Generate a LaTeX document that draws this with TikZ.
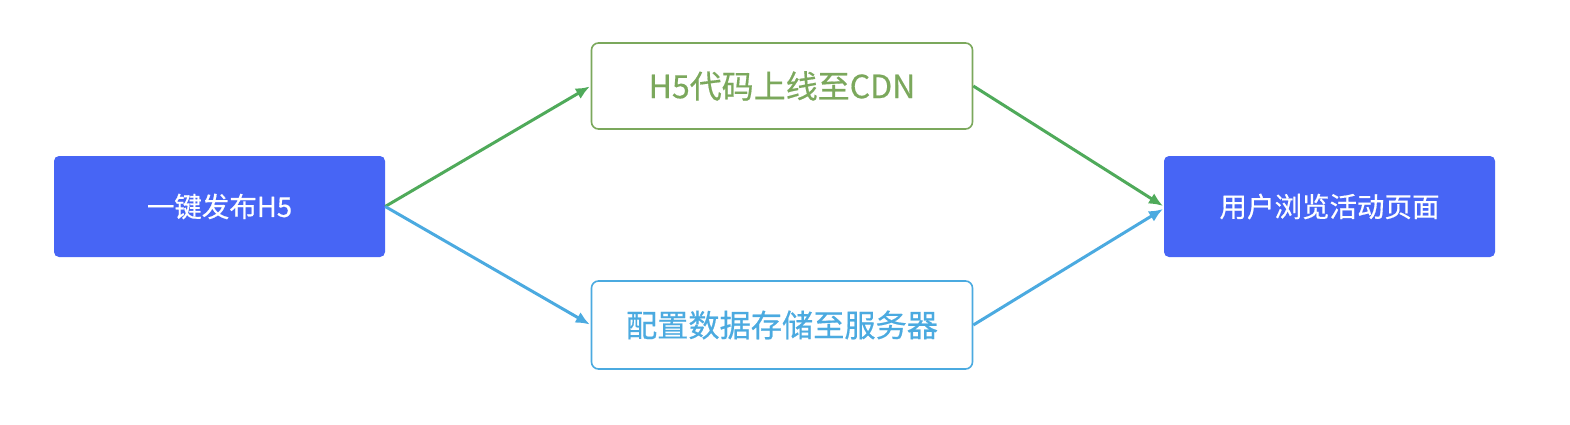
\documentclass[tikz,border=0pt]{standalone}
\usepackage{fontspec}
\newfontfamily\cjk[FakeBold=0.5]{Noto Sans CJK SC}
\usetikzlibrary{arrows.meta}
\definecolor{mainblue}{HTML}{4765F5}
\definecolor{boxgreen}{HTML}{7BA85C}
\definecolor{arrgreen}{HTML}{4FAA5A}
\definecolor{lightblue}{HTML}{4BAAE0}
\begin{document}
\begin{tikzpicture}[x=1pt,y=-1pt,
  solidbox/.style={fill=mainblue,draw=none,rounded corners=5pt,minimum width=331pt,minimum height=101pt,text=white,font=\cjk\fontsize{27.5}{32}\selectfont,inner sep=0pt},
  outlinebox/.style={fill=white,line width=1.6pt,rounded corners=7pt,minimum width=381pt,minimum height=86pt,font=\cjk\fontsize{32}{36}\selectfont,inner sep=0pt},
  flow/.style={line width=3pt,-{Latex[length=14pt,width=12pt]},shorten >=1pt}]
\useasboundingbox (0,0) rectangle (1570,424);
\node[solidbox] (publish) at (219.5,206.5) {一键发布H5};
\node[outlinebox,draw=boxgreen,text=boxgreen] (cdn) at (782,86) {H5代码上线至CDN};
\node[outlinebox,draw=lightblue,text=lightblue,minimum height=88pt,font=\cjk\fontsize{31.2}{36}\selectfont] (server) at (782,325) {配置数据存储至服务器};
\node[solidbox] (view) at (1329.5,206.5) {用户浏览活动页面};
\draw[flow,draw=arrgreen,color=arrgreen] (publish.east) -- (cdn.west);
\draw[flow,draw=lightblue,color=lightblue] (publish.east) -- (server.west);
\draw[flow,draw=arrgreen,color=arrgreen] (cdn.east) -- (view.west);
\draw[flow,draw=lightblue,color=lightblue] (server.east) -- ([yshift=-2pt]view.west);
\end{tikzpicture}
\end{document}
